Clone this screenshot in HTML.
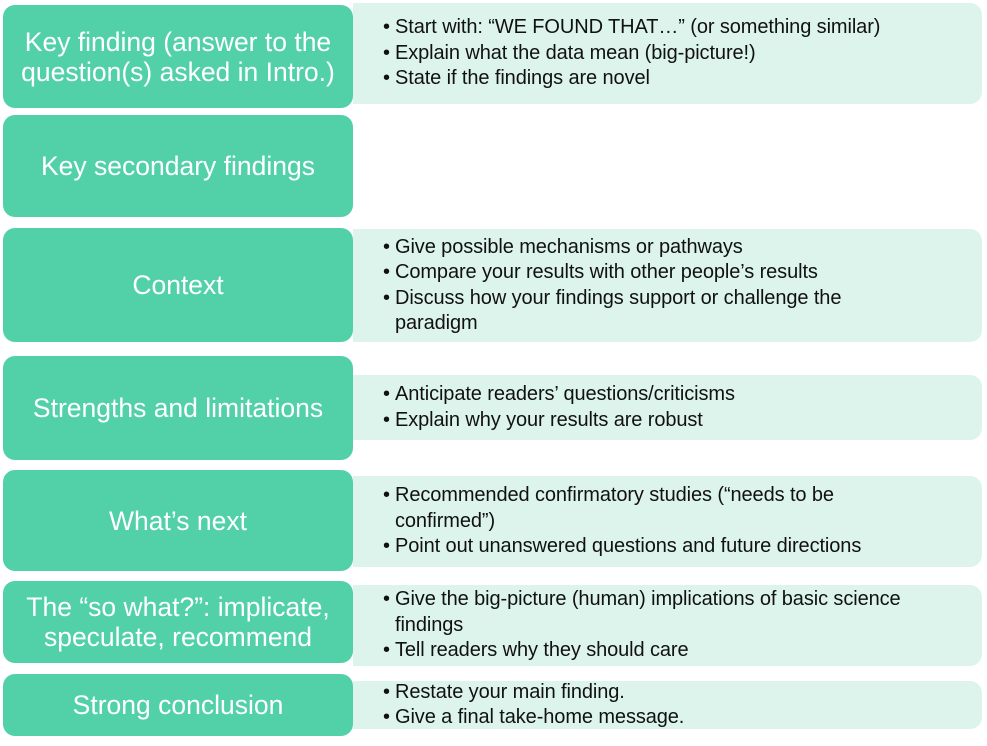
<!DOCTYPE html>
<html><head><style>
body{margin:0;width:987px;height:746px;background:#fff;position:relative;font-family:"Liberation Sans",sans-serif;overflow:hidden}
.l{position:absolute;left:3px;width:350px;background:#52d1a8;border-radius:12px;color:#fff;font-size:26.5px;display:flex;align-items:center;justify-content:center;text-align:center;line-height:30px}
.r{position:absolute;left:353px;width:629px;background:#dcf4eb;border-radius:0 12px 12px 0;color:#111;font-size:20px;line-height:25.5px;box-sizing:border-box;padding-left:30px;display:flex;flex-direction:column;justify-content:center;letter-spacing:-0.1px}
.r div{position:relative;padding-left:12px}
.r div:before{content:"•";position:absolute;left:0;top:0}
</style></head><body>
<div class="l" style="top:5px;height:103px">Key finding (answer to the<br>question(s) asked in Intro.)</div>
<div class="r" style="top:3px;height:101px;justify-content:flex-start;padding-top:12px"><div>Start with: “WE FOUND THAT…” (or something similar)</div><div>Explain what the data mean (big-picture!)</div><div>State if the findings are novel</div></div>
<div class="l" style="top:115px;height:102px">Key secondary findings</div>
<div class="l" style="top:228px;height:114px">Context</div>
<div class="r" style="top:229px;height:113px"><div>Give possible mechanisms or pathways</div><div>Compare your results with other people’s results</div><div>Discuss how your findings support or challenge the<br>paradigm</div></div>
<div class="l" style="top:356px;height:104px">Strengths and limitations</div>
<div class="r" style="top:375px;height:65px"><div>Anticipate readers’ questions/criticisms</div><div>Explain why your results are robust</div></div>
<div class="l" style="top:470px;height:101px">What’s next</div>
<div class="r" style="top:476px;height:91px"><div>Recommended confirmatory studies (“needs to be<br>confirmed”)</div><div>Point out unanswered questions and future directions</div></div>
<div class="l" style="top:581px;height:82px">The “so what?”: implicate,<br>speculate, recommend</div>
<div class="r" style="top:585px;height:81px"><div>Give the big-picture (human) implications of basic science<br>findings</div><div>Tell readers why they should care</div></div>
<div class="l" style="top:674px;height:62px">Strong conclusion</div>
<div class="r" style="top:681px;height:48px"><div>Restate your main finding.</div><div>Give a final take-home message.</div></div>
</body></html>
